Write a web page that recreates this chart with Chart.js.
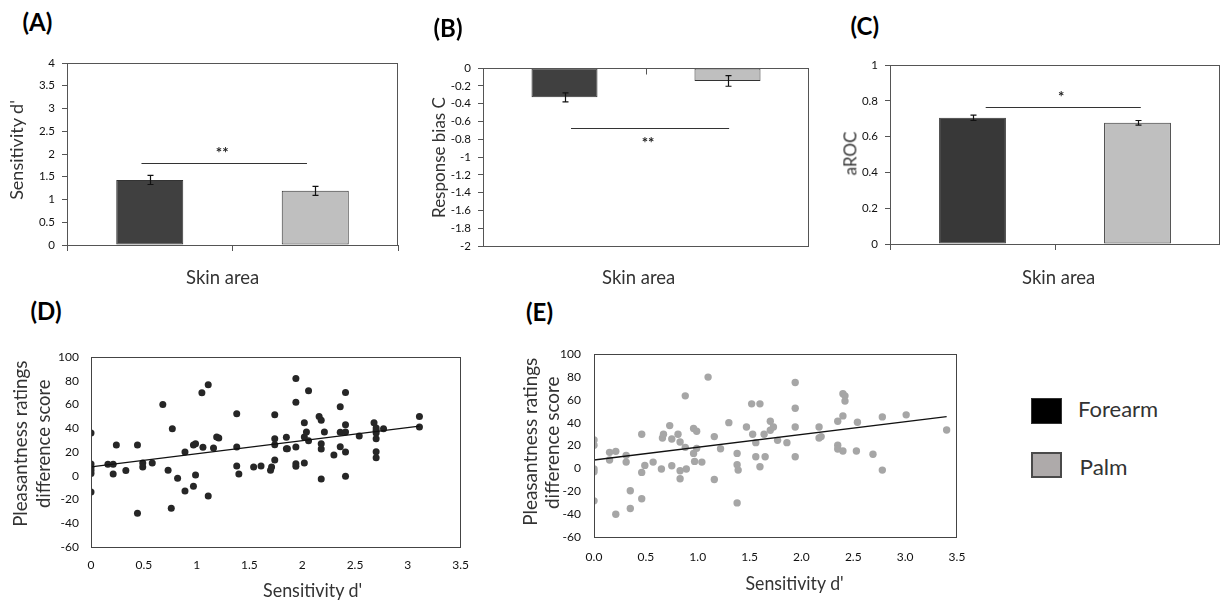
<!DOCTYPE html>
<html><head><meta charset="utf-8">
<script src="https://cdn.jsdelivr.net/npm/chart.js@4.4.1/dist/chart.umd.min.js"></script>
<style>
html,body{margin:0;padding:0;background:#fff;}
#stage{position:relative;width:1220px;height:601px;overflow:hidden;font-family:Lato,sans-serif;background:#fff;}
canvas{position:absolute;}
.txt{position:absolute;white-space:nowrap;line-height:1;transform-origin:50% 50%;color:#333;}
.sw{position:absolute;box-sizing:border-box;}
</style></head><body><div id="stage">
<canvas id="cA" width="410" height="250" style="left:0;top:40px"></canvas>
<canvas id="cB" width="395" height="250" style="left:420px;top:40px"></canvas>
<canvas id="cC" width="400" height="250" style="left:820px;top:40px"></canvas>
<canvas id="cD" width="480" height="271" style="left:0;top:330px"></canvas>
<canvas id="cE" width="480" height="271" style="left:500px;top:330px"></canvas>
<div class="sw" style="left:1031px;top:398px;width:31px;height:26px;background:#000;border:1px solid #333"></div>
<div class="sw" style="left:1031px;top:452px;width:31px;height:26px;background:#aeaaaa;border:2px solid #4a4a4a"></div>
</div>
<script>
// ---------- data ----------
const categories = ['Forearm', 'Palm'];
const sensitivityMean = [1.43, 1.19];
const sensitivityErr = [0.10, 0.10];
const biasMean = [-0.33, -0.145];
const biasErr = [0.05, 0.06];
const arocMean = [0.705, 0.677];
const arocErr = [0.015, 0.013];
// significance bars: [from category, to category, level, label]
const sigA = [-0.05, 0.95, 1.8, '**'];
const sigB = [0.04, 1.01, -0.67, '**'];
const sigC = [0.08, 1.02, 0.765, '*'];

const forearmSensitivity = [0,0,0,0,0,0,0.16,0.21,0.21,0.24,
 0.33,0.44,0.44,0.49,0.49,0.58,0.68,0.73,0.76,0.77,
 0.82,0.89,0.89,0.97,0.97,0.99,0.99,1.05,1.06,1.11,
 1.11,1.16,1.19,1.21,1.38,1.38,1.38,1.40,1.54,1.61,
 1.70,1.71,1.74,1.74,1.74,1.74,1.85,1.85,1.86,1.94,
 1.94,1.94,1.94,1.94,2.02,2.02,2.02,2.04,2.06,2.06,
 2.16,2.18,2.18,2.18,2.18,2.21,2.30,2.36,2.36,2.36,
 2.41,2.41,2.41,2.41,2.41,2.54,2.68,2.70,2.70,2.70,
 2.70,2.70,2.70,2.77,3.11,3.11];
const forearmPleasantness = [36,10,7,4.5,2,-13.7,9.6,9.6,1.5,26,
 4.5,26,-31.6,10.7,7.4,10.7,60,4.6,-27.4,39.6,
 -2.2,20,-12.8,26,-8.9,27,0.6,70,24,76.7,
 -17,23.4,32.6,31.8,52.3,24.2,8.2,1.5,7.4,8.2,
 4.6,7.4,51.4,31.2,26.2,13.3,32.4,22.8,22.8,82,
 61.8,24.2,10.2,8,44.7,32.6,10.7,36.8,71.6,29.5,
 49.8,46.7,27,22.5,-2.7,36.8,17.5,58.2,36.6,24.5,
 70.2,43,36.8,20,-0.5,33.5,44.7,40.2,38.2,36,
 31.2,20.3,15.2,39.6,49.8,41];
const forearmTrendX = [0, 3.11];
const forearmTrendY = [7.4, 41.8];

const palmSensitivity = [0,0,0,0,0,0.15,0.15,0.21,0.21,0.31,
 0.31,0.35,0.35,0.46,0.46,0.46,0.49,0.57,0.65,0.66,
 0.67,0.73,0.75,0.75,0.81,0.83,0.83,0.83,0.88,0.88,
 0.89,0.96,0.96,0.97,0.99,0.99,1.04,1.10,1.16,1.16,
 1.22,1.30,1.38,1.38,1.39,1.38,1.47,1.52,1.53,1.56,
 1.56,1.60,1.60,1.64,1.65,1.70,1.70,1.73,1.77,1.86,
 1.94,1.94,1.94,1.94,2.17,2.17,2.19,2.35,2.35,2.35,
 2.40,2.42,2.42,2.40,2.40,2.54,2.53,2.69,2.78,2.78,
 3.01,3.40];
const palmPleasantness = [24.8,20.2,-0.6,-3,-28.4,14,7.3,14.9,-40.1,11.4,
 5.5,-19.6,-35.1,29.8,-3.5,-26.6,2.6,5.5,-0.6,26.6,
 29.8,37.4,25.7,2.3,29.8,23.1,-2.1,-9.1,63.4,18.4,
 -0.6,34.8,13.1,6.1,32.4,17.5,5.5,79.8,27.8,-9.7,
 17.2,40,13.1,3.2,-1.5,-30.2,36.2,56.4,29.8,22.5,
 10.2,56.4,1.4,29.8,10.2,41.2,33.3,36.2,24.5,22.5,
 75.1,52.6,36.2,10.2,36.2,26.6,27.8,41.2,20.2,16.9,
 65.2,63.4,58.8,45.9,15.2,40.3,15.2,12.3,45,-1.5,
 46.8,33.6];
const palmTrendX = [0, 3.40];
const palmTrendY = [7.3, 45.3];

// ---------- styling / plugins ----------
Chart.defaults.font.family = 'Lato, sans-serif';
Chart.defaults.font.size = 12;
Chart.defaults.color = '#111';
Chart.defaults.animation = false;

const framePlugin = {
  id: 'frame',
  afterDraw(chart, args, o) {
    const {ctx, chartArea: a} = chart;
    const l = Math.round(a.left) + 0.5, t = Math.round(a.top) + 0.5;
    const r = Math.round(a.right) - 0.5, b = Math.round(a.bottom) + 0.5;
    ctx.save();
    ctx.strokeStyle = o.color || '#555';
    ctx.lineWidth = 1;
    ctx.strokeRect(l, t, r - l, b - t);
    if (o.midTop) {
      const x = Math.round(chart.scales.x.getPixelForValue(0.5)) + 0.5;
      ctx.beginPath(); ctx.moveTo(x, t); ctx.lineTo(x, t + 6); ctx.stroke();
    }
    ctx.restore();
  }
};
const errPlugin = {
  id: 'errbars',
  afterDatasetsDraw(chart, args, o) {
    if (!o.errors) return;
    const {ctx} = chart, ys = chart.scales.y;
    const vals = chart.data.datasets[0].data;
    ctx.save(); ctx.strokeStyle = '#111'; ctx.lineWidth = 1.2;
    chart.getDatasetMeta(0).data.forEach((bar, i) => {
      const x = Math.round(bar.x) + 0.5;
      const y1 = ys.getPixelForValue(vals[i] - o.errors[i]);
      const y2 = ys.getPixelForValue(vals[i] + o.errors[i]);
      ctx.beginPath();
      ctx.moveTo(x, y1); ctx.lineTo(x, y2);
      ctx.moveTo(x - 3, y1); ctx.lineTo(x + 3, y1);
      ctx.moveTo(x - 3, y2); ctx.lineTo(x + 3, y2);
      ctx.stroke();
    });
    ctx.restore();
  }
};
const sigPlugin = {
  id: 'sig',
  afterDatasetsDraw(chart, args, o) {
    if (!o.spec) return;
    const [from, to, level, label] = o.spec;
    const {ctx} = chart, xs = chart.scales.x, ys = chart.scales.y;
    const x1 = xs.getPixelForValue(from), x2 = xs.getPixelForValue(to);
    const y = Math.round(ys.getPixelForValue(level)) + 0.5;
    ctx.save();
    ctx.strokeStyle = '#333'; ctx.lineWidth = 1.2;
    ctx.beginPath(); ctx.moveTo(x1, y); ctx.lineTo(x2, y); ctx.stroke();
    ctx.fillStyle = '#222'; ctx.font = 'bold 15px Lato, sans-serif';
    ctx.textAlign = 'center'; ctx.textBaseline = 'middle';
    ctx.fillText(label, (x1 + x2) / 2 - 2, y + (o.below ? 15 : -10));
    ctx.restore();
  }
};

function barChart(id, values, errors, sig, yMin, yMax, step, yWidth, xHeight, pad, colors, midTop, below) {
  return new Chart(document.getElementById(id), {
    type: 'bar',
    data: {labels: categories, datasets: [{
      data: values, backgroundColor: colors, borderColor: '#333', borderWidth: 1,
      borderSkipped: false, barPercentage: 0.405, categoryPercentage: 1
    }]},
    options: {
      responsive: false, devicePixelRatio: 1,
      layout: {padding: pad},
      plugins: {legend: {display: false}, tooltip: {enabled: false},
        frame: {color: '#555', midTop}, errbars: {errors}, sig: {spec: sig, below}},
      scales: {
        x: {
          offset: true,
          grid: {display: !midTop, offset: true, drawOnChartArea: false, color: '#555', tickLength: 6},
          border: {display: false},
          ticks: {display: false},
          afterFit(s) { s.height = xHeight; }
        },
        y: {
          min: yMin, max: yMax,
          grid: {display: true, drawOnChartArea: false, color: '#555', tickLength: 5},
          border: {display: false},
          ticks: {stepSize: step, padding: 7, color: '#111', font: {size: 11.5},
            callback: v => String(+v.toFixed(1))},
          afterFit(s) { s.width = yWidth; }
        }
      }
    },
    plugins: [framePlugin, errPlugin, sigPlugin]
  });
}

barChart('cA', sensitivityMean, sensitivityErr, sigA, 0, 4, 0.5, 67, 45,
  {top: 23, right: 12, left: 0, bottom: 0}, ['#404040', '#bfbfbf'], false, false);
barChart('cB', biasMean, biasErr, sigB, -2, 0, 0.2, 63, 44,
  {top: 28, right: 6, left: 0, bottom: 0}, ['#404040', '#bfbfbf'], true, true);
barChart('cC', arocMean, arocErr, sigC, 0, 1, 0.2, 70, 46,
  {top: 25, right: 0, left: 0, bottom: 0}, ['#383838', '#bfbfbf'], false, false);

function zip(xs, ys) { return xs.map((x, i) => ({x, y: ys[i]})); }

function scatterChart(id, xs, ys, tx, ty, color, radius, yWidth, xHeight, pad, xPad, yPad, fixed) {
  return new Chart(document.getElementById(id), {
    type: 'scatter',
    data: {datasets: [
      {data: zip(tx, ty), showLine: true, borderColor: '#111', borderWidth: 1.3, pointRadius: 0, order: 0},
      {data: zip(xs, ys), backgroundColor: color, borderColor: color, pointRadius: radius, borderWidth: 0, order: 1}
    ]},
    options: {
      responsive: false, devicePixelRatio: 1,
      layout: {padding: pad},
      plugins: {legend: {display: false}, tooltip: {enabled: false}, frame: {color: '#444'}},
      scales: {
        x: {
          type: 'linear', min: 0, max: 3.5,
          grid: {display: false, drawTicks: false}, border: {display: false},
          ticks: {stepSize: 0.5, padding: xPad, color: '#111', font: {size: 12},
            callback: v => fixed ? v.toFixed(1) : String(+v.toFixed(1))},
          afterFit(s) { s.height = xHeight; }
        },
        y: {
          min: -60, max: 100,
          grid: {display: false, drawTicks: false}, border: {display: false},
          ticks: {stepSize: 20, padding: yPad, color: '#111', font: {size: 12}},
          afterFit(s) { s.width = yWidth; }
        }
      }
    },
    plugins: [framePlugin]
  });
}

scatterChart('cD', forearmSensitivity, forearmPleasantness, forearmTrendX, forearmTrendY,
  '#262626', 3.5, 91, 54, {top: 27, right: 16, left: 0, bottom: 0}, 11, 12, false);
scatterChart('cE', palmSensitivity, palmPleasantness, palmTrendX, palmTrendY,
  '#a6a6a6', 3.7, 94, 64, {top: 24, right: 23, left: 0, bottom: 0}, 13, 13, true);

// ---------- text labels (HTML) ----------
const stage = document.getElementById('stage');
function addText(t, cx, cy, size, len, rot, bold, color) {
  const el = document.createElement('div');
  el.className = 'txt';
  el.textContent = t;
  el.style.fontSize = size + 'px';
  if (bold) el.style.fontWeight = 'bold';
  if (color) el.style.color = color;
  stage.appendChild(el);
  const w = el.offsetWidth, h = el.offsetHeight;
  const sx = len ? len / w : 1;
  el.style.left = (cx - w / 2) + 'px';
  el.style.top = (cy - h / 2) + 'px';
  el.style.transform = 'rotate(' + rot + 'deg) scaleX(' + sx.toFixed(3) + ')';
}
addText('(A)', 37.5, 22, 24, null, 0, true, '#000');
addText('(B)', 448, 28, 24, null, 0, true, '#000');
addText('(C)', 865, 26, 24, null, 0, true, '#000');
addText('(D)', 46, 311, 24, null, 0, true, '#000');
addText('(E)', 539.5, 312, 24, null, 0, true, '#000');
addText("Sensitivity d'", 16, 150, 18, null, -90);
addText('Response bias C', 438, 157, 17, null, -90);
addText('aROC', 850, 153, 17, null, -90);
addText('Skin area', 222, 276, 19, 73, 0);
addText('Skin area', 638, 276, 19, 73, 0);
addText('Skin area', 1058, 276, 19, 73, 0);
addText('Pleasantness ratings', 19, 444, 19.5, 166, -90);
addText('difference score', 43, 444, 19.5, 128, -90);
addText('Pleasantness ratings', 529, 442, 19.5, 168, -90);
addText('difference score', 552, 443, 19.5, 132, -90);
addText("Sensitivity d'", 312, 589, 19, 99, 0);
addText("Sensitivity d'", 794, 582, 19, 98, 0);
addText('Forearm', 1118, 409, 22, 80, 0);
addText('Palm', 1103, 467, 22, 48, 0);
</script>
</body></html>
